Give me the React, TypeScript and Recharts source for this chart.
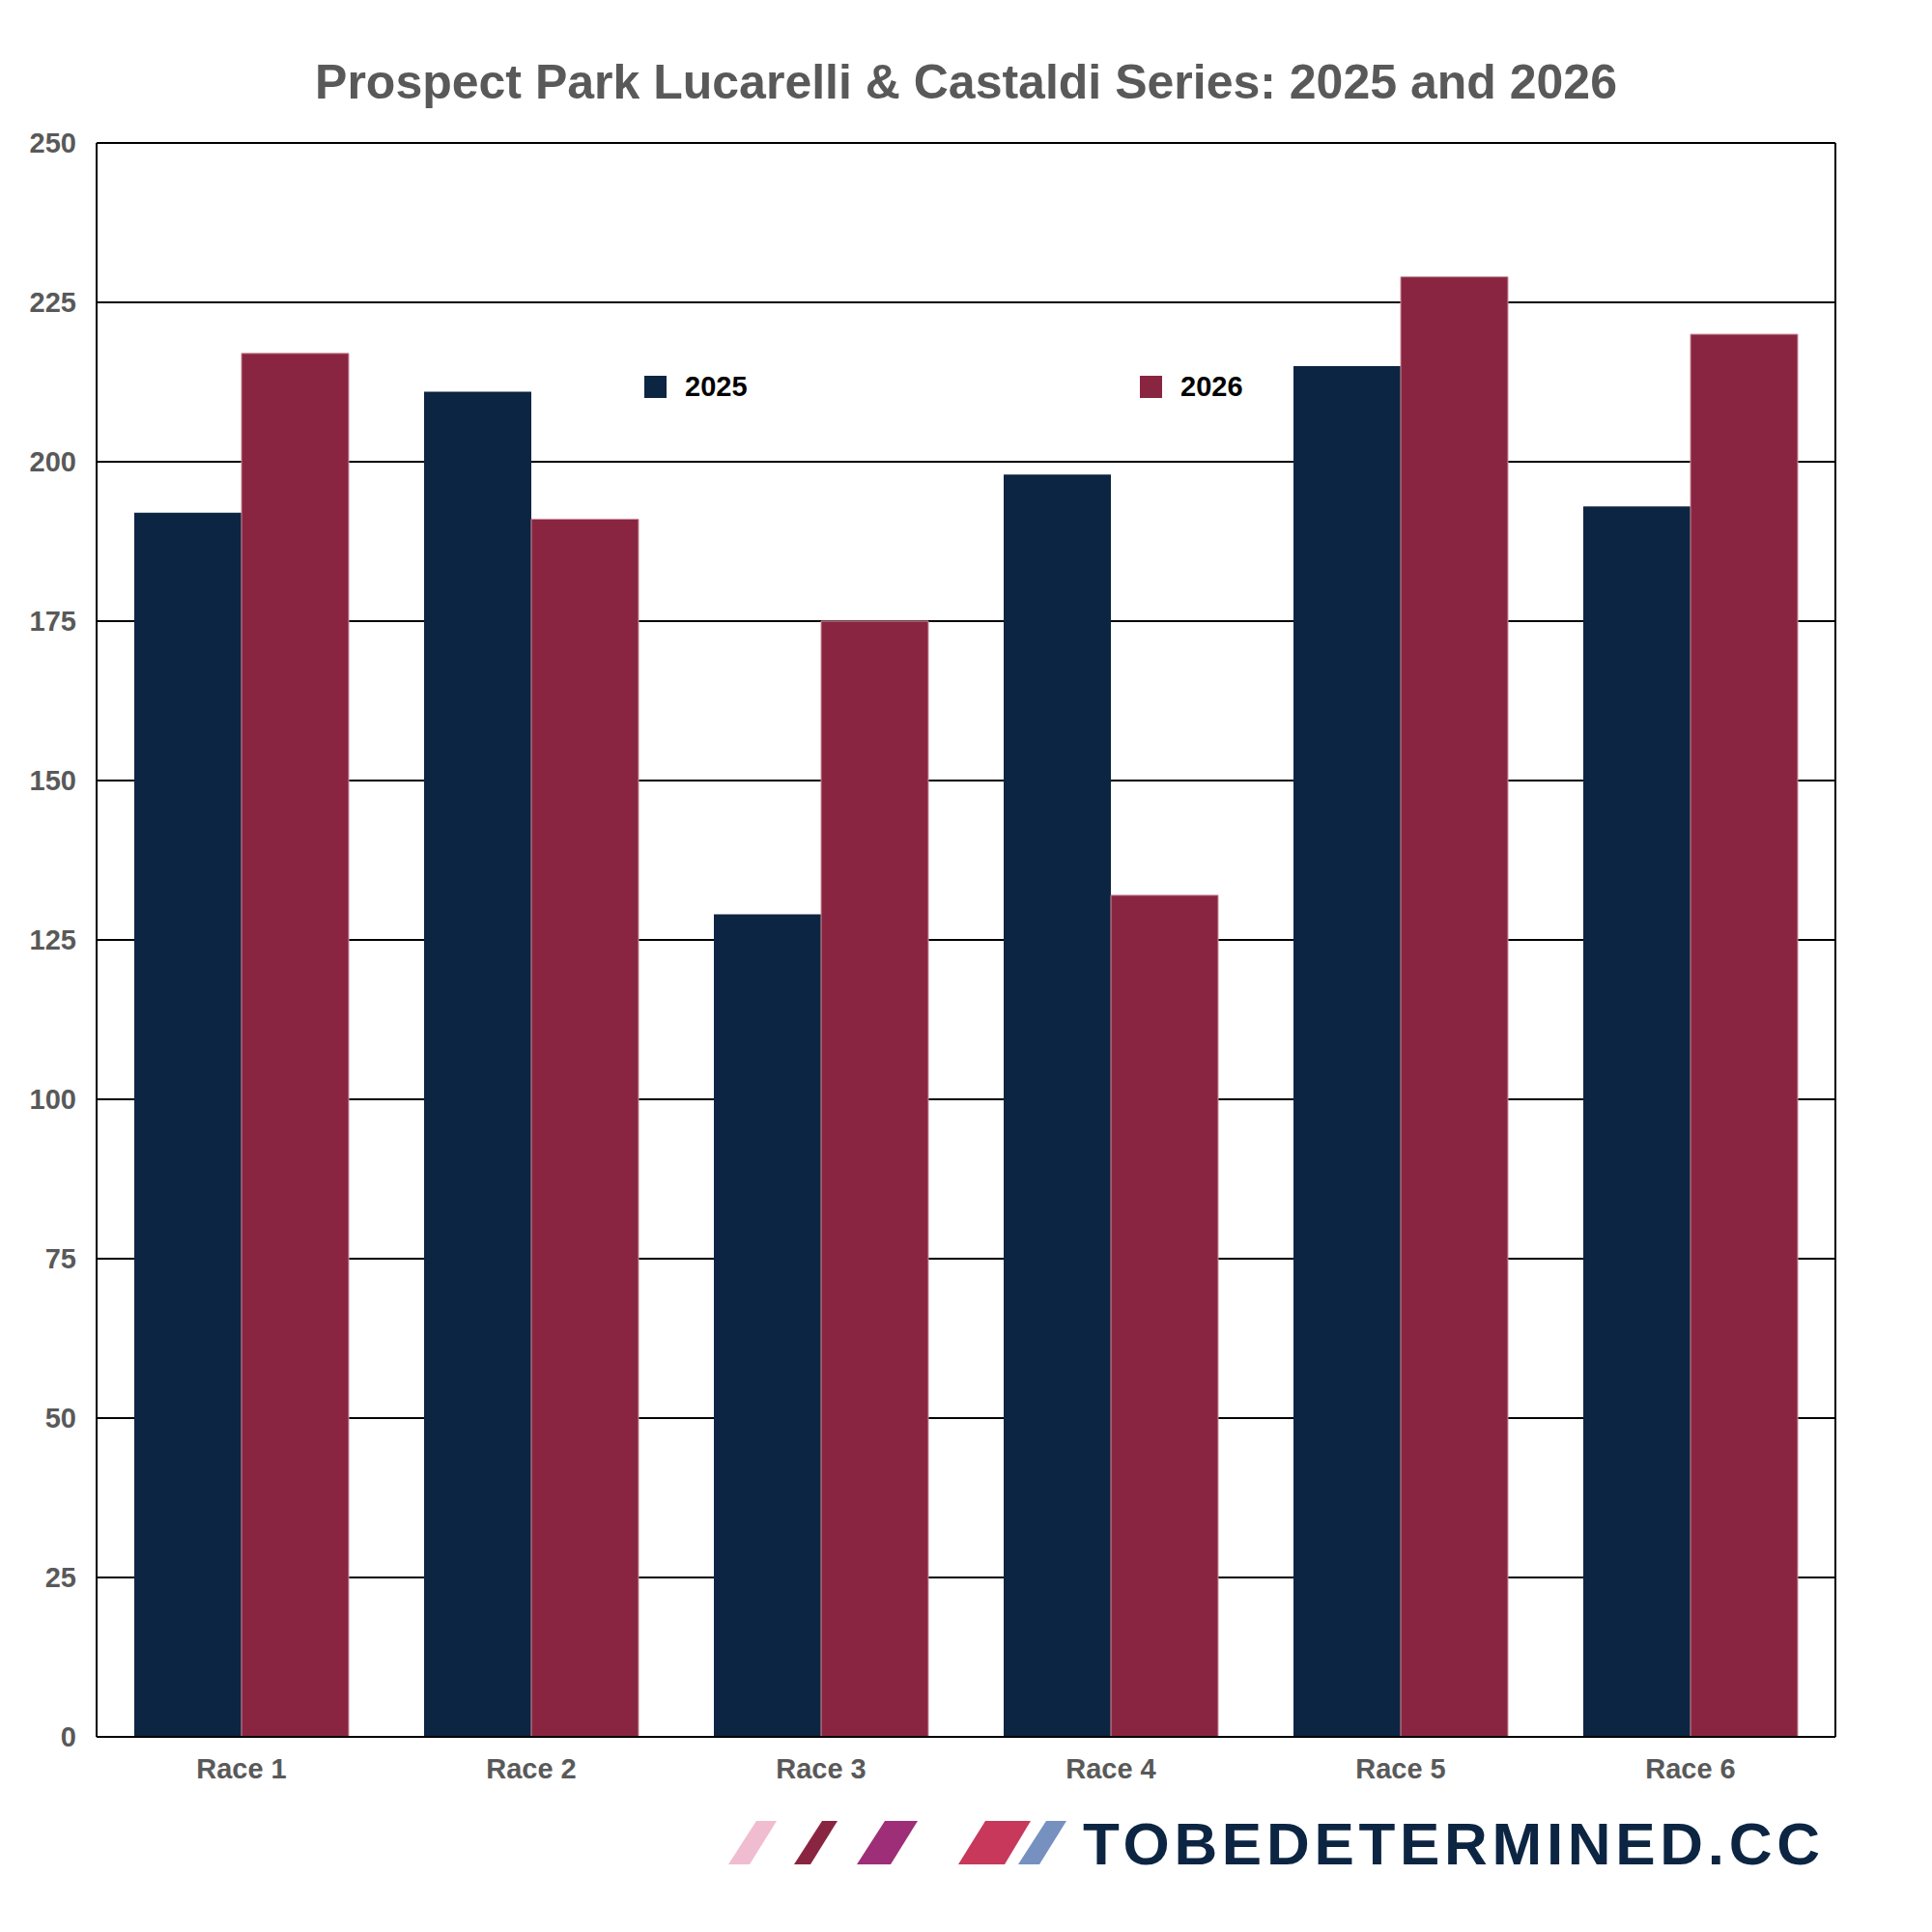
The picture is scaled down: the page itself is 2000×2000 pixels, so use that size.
import { BarChart, Bar, XAxis, YAxis, CartesianGrid } from 'recharts'

const races = ['Race 1', 'Race 2', 'Race 3', 'Race 4', 'Race 5', 'Race 6']
const values2025 = [192, 211, 129, 198, 215, 193]
const values2026 = [217, 191, 175, 132, 229, 220]
const yTicks = [0, 25, 50, 75, 100, 125, 150, 175, 200, 225, 250]
const seriesNames = ['2025', '2026']
const seriesColors = ['#0c2542', '#8a2541']

const FONT = '"Liberation Sans", Arial, Helvetica, sans-serif'
const GRAY = '#595959'

export default function App() {
  const data = races.map((race, i) => ({
    race,
    '2025': values2025[i],
    '2026': values2026[i],
  }))

  return (
    <div style={{ position: 'absolute', left: 0, top: 0, width: 2000, height: 2000, background: '#fff', fontFamily: FONT }}>
      <BarChart
        width={2000}
        height={2000}
        data={data}
        margin={{ top: 148, right: 0, bottom: 162, left: 0 }}
        barCategoryGap="13%"
        barGap={0}
      >
        <CartesianGrid vertical={false} stroke="#000" strokeWidth={2} />
        <XAxis
          dataKey="race"
          height={40}
          axisLine={{ stroke: '#000', strokeWidth: 2 }}
          tickLine={false}
          tickSize={0}
          tickMargin={22}
          tick={{ fontSize: 29, fontWeight: 700, fill: GRAY, fontFamily: FONT }}
        />
        <YAxis
          width={100}
          domain={[0, 250]}
          ticks={yTicks}
          interval={0}
          axisLine={{ stroke: '#000', strokeWidth: 2 }}
          tickLine={false}
          tickSize={0}
          tickMargin={21}
          tick={{ fontSize: 29, fontWeight: 700, fill: GRAY, fontFamily: FONT }}
        />
        <YAxis
          yAxisId="right"
          orientation="right"
          width={100}
          domain={[0, 250]}
          tick={false}
          tickLine={false}
          axisLine={{ stroke: '#000', strokeWidth: 2 }}
        />
        <Bar dataKey="2025" fill={seriesColors[0]} isAnimationActive={false} />
        <Bar dataKey="2026" fill={seriesColors[1]} stroke="#c9909c" strokeWidth={1} isAnimationActive={false} />
      </BarChart>

      {/* legend */}
      <div style={{ position: 'absolute', top: 389, left: 667, display: 'flex' }}>
        {seriesNames.map((name, i) => (
          <div key={name} style={{ width: 513, display: 'flex', alignItems: 'center', height: 23 }}>
            <div style={{ width: 23, height: 23, background: seriesColors[i] }} />
            <span style={{ marginLeft: 19, fontSize: 29, fontWeight: 700, color: '#000' }}>{name}</span>
          </div>
        ))}
      </div>

      {/* title and logo */}
      <svg width={2000} height={2000} style={{ position: 'absolute', left: 0, top: 0, pointerEvents: 'none' }}>
        <text x={1000} y={102} textAnchor="middle" fontSize={50} fontWeight={700} fill={GRAY} fontFamily={FONT}>
          Prospect Park Lucarelli &amp; Castaldi Series: 2025 and 2026
        </text>
        <polygon points="754,1930 776,1930 804,1885 783,1885" fill="#f0bcd0" />
        <polygon points="822,1930 839,1930 867,1885 851,1885" fill="#8a2541" />
        <polygon points="887,1930 922,1930 950,1885 916,1885" fill="#9e2e77" />
        <polygon points="992,1930 1040,1930 1067,1885 1020,1885" fill="#c8385a" />
        <polygon points="1054,1930 1076,1930 1104,1885 1083,1885" fill="#7690c0" />
        <text
          x={1121}
          y={1930}
          fontSize={62}
          fontWeight={700}
          fill="#0c2542"
          fontFamily='"Liberation Sans Narrow", "Liberation Sans", Arial, sans-serif'
          textLength={763}
          lengthAdjust="spacing"
        >
          TOBEDETERMINED.CC
        </text>
      </svg>
    </div>
  )
}
